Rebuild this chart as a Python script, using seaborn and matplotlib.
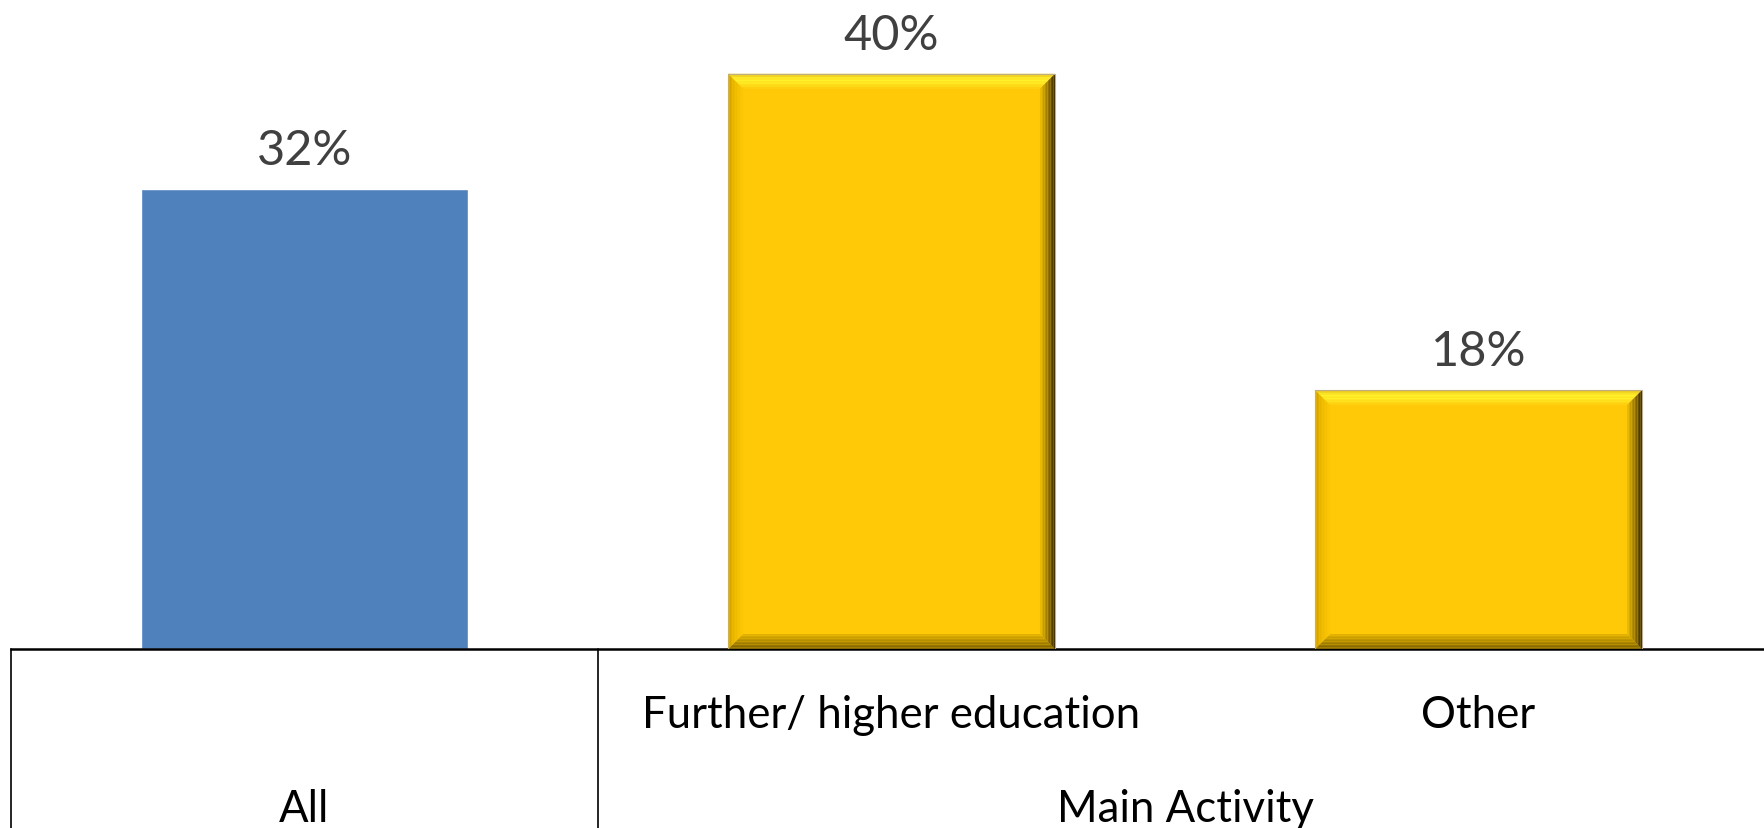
import numpy as np
import matplotlib
matplotlib.use("Agg")
import matplotlib.pyplot as plt
import matplotlib.transforms as mtransforms
from matplotlib.patches import Polygon
from matplotlib.colors import to_rgb
import seaborn as sns

# Share of respondents, by group
categories = ["All", "Further/ higher education", "Other"]
values = [32, 40, 18]
group_labels = ["All", "Main Activity"]
bar_colors = ["#4F81BD", "#FFC908", "#FFC908"]
beveled = [False, True, True]

sns.set_theme(style="white")
plt.rcParams["font.family"] = ["Lato", "DejaVu Sans"]

W, H, DPI = 1764, 829, 100
fig = plt.figure(figsize=(W / DPI, H / DPI), dpi=DPI)
fig.patch.set_facecolor("white")
ax = fig.add_axes([11 / W, 179 / H, 1761 / W, 650 / H])

sns.barplot(x=categories, y=values, hue=categories, palette=bar_colors,
            width=0.557, saturation=1, legend=False, ax=ax, zorder=2)

ax.set_xlim(-0.5, 2.5)
ax.set_ylim(0, 45.2)
ax.set_xticks([])
ax.set_yticks([])
ax.set_xlabel("")
ax.set_ylabel("")
for s in ["top", "left", "right"]:
    ax.spines[s].set_visible(False)
ax.spines["bottom"].set_color("black")
ax.spines["bottom"].set_linewidth(1.8)
ax.set_facecolor("white")


def lerp(c0, c1, t):
    a, b = np.array(to_rgb(c0)), np.array(to_rgb(c1))
    return tuple(a + (b - a) * t)


def ramp(stops, t):
    # piecewise-linear colour ramp; stops = [(pos, colour), ...]
    for (p0, c0), (p1, c1) in zip(stops[:-1], stops[1:]):
        if t <= p1:
            return lerp(c0, c1, (t - p0) / (p1 - p0) if p1 > p0 else 0)
    return to_rgb(stops[-1][1])


# bevel size in pixels -> data units
inv = ax.transData.inverted()
p0 = inv.transform((0, 0))
p1 = inv.transform((15, 15))
DX, DY = p1[0] - p0[0], p1[1] - p0[1]

side_ramps = {
    "top": [(0, "#E0B818"), (0.3, "#FFF22E"), (0.6, "#FFEE28"), (1, "#FFCC0C")],
    "bottom": [(0, "#7A5E00"), (0.5, "#B08A00"), (1, "#E6B400")],
    "left": [(0, "#C89A00"), (0.4, "#ECB800"), (1, "#FCC804")],
    "right": [(0, "#2E2200"), (0.4, "#8A6A00"), (1, "#F2C000")],
}


def bevel(patch, n=10):
    x0 = patch.get_x()
    w = patch.get_width()
    h = patch.get_height()
    x1 = x0 + w
    for i in range(n):
        a, b = i / n, (i + 1) / n
        t = (a + b) / 2
        quads = {
            "top": [(x0 + a * DX, h - a * DY), (x1 - a * DX, h - a * DY),
                    (x1 - b * DX, h - b * DY), (x0 + b * DX, h - b * DY)],
            "bottom": [(x0 + a * DX, a * DY), (x1 - a * DX, a * DY),
                       (x1 - b * DX, b * DY), (x0 + b * DX, b * DY)],
            "left": [(x0 + a * DX, a * DY), (x0 + a * DX, h - a * DY),
                     (x0 + b * DX, h - b * DY), (x0 + b * DX, b * DY)],
            "right": [(x1 - a * DX, a * DY), (x1 - a * DX, h - a * DY),
                      (x1 - b * DX, h - b * DY), (x1 - b * DX, b * DY)],
        }
        for side, pts in quads.items():
            ax.add_patch(Polygon(pts, closed=True, facecolor=ramp(side_ramps[side], t),
                                 edgecolor="none", zorder=3, antialiased=True))
    ax.add_patch(Polygon([(x0, 0), (x0, h), (x1, h), (x1, 0)], closed=True,
                         facecolor="none", edgecolor="#BFAF80", linewidth=0.8, zorder=4))


for patch, b in zip(ax.patches[:len(values)], beveled):
    if b:
        bevel(patch)

# value labels above the bars
for i, v in enumerate(values):
    ax.annotate(f"{v}%", xy=(i, v), xytext=(0, 18), textcoords="offset points",
                ha="center", va="baseline", fontsize=35, color="#404040")

# two-level category axis drawn as a table below the baseline
blend = mtransforms.blended_transform_factory(ax.transData, ax.transAxes)
for x in [-0.5, 0.5]:
    ax.plot([x, x], [0, -0.3], color="black", lw=1.2, transform=blend, clip_on=False)

for i, lab in enumerate(categories[1:], start=1):
    ax.annotate(lab, xy=(i, 0), xycoords=blend, xytext=(0, -56.5),
                textcoords="offset points", ha="center", va="baseline",
                fontsize=31.5, color="black")

group_x = [0, 1.5]
for gx, lab in zip(group_x, group_labels):
    ax.annotate(lab, xy=(gx, 0), xycoords=blend, xytext=(0, -123.5),
                textcoords="offset points", ha="center", va="baseline",
                fontsize=31.5, color="black")

fig.savefig("out.png", dpi=DPI, facecolor="white")
